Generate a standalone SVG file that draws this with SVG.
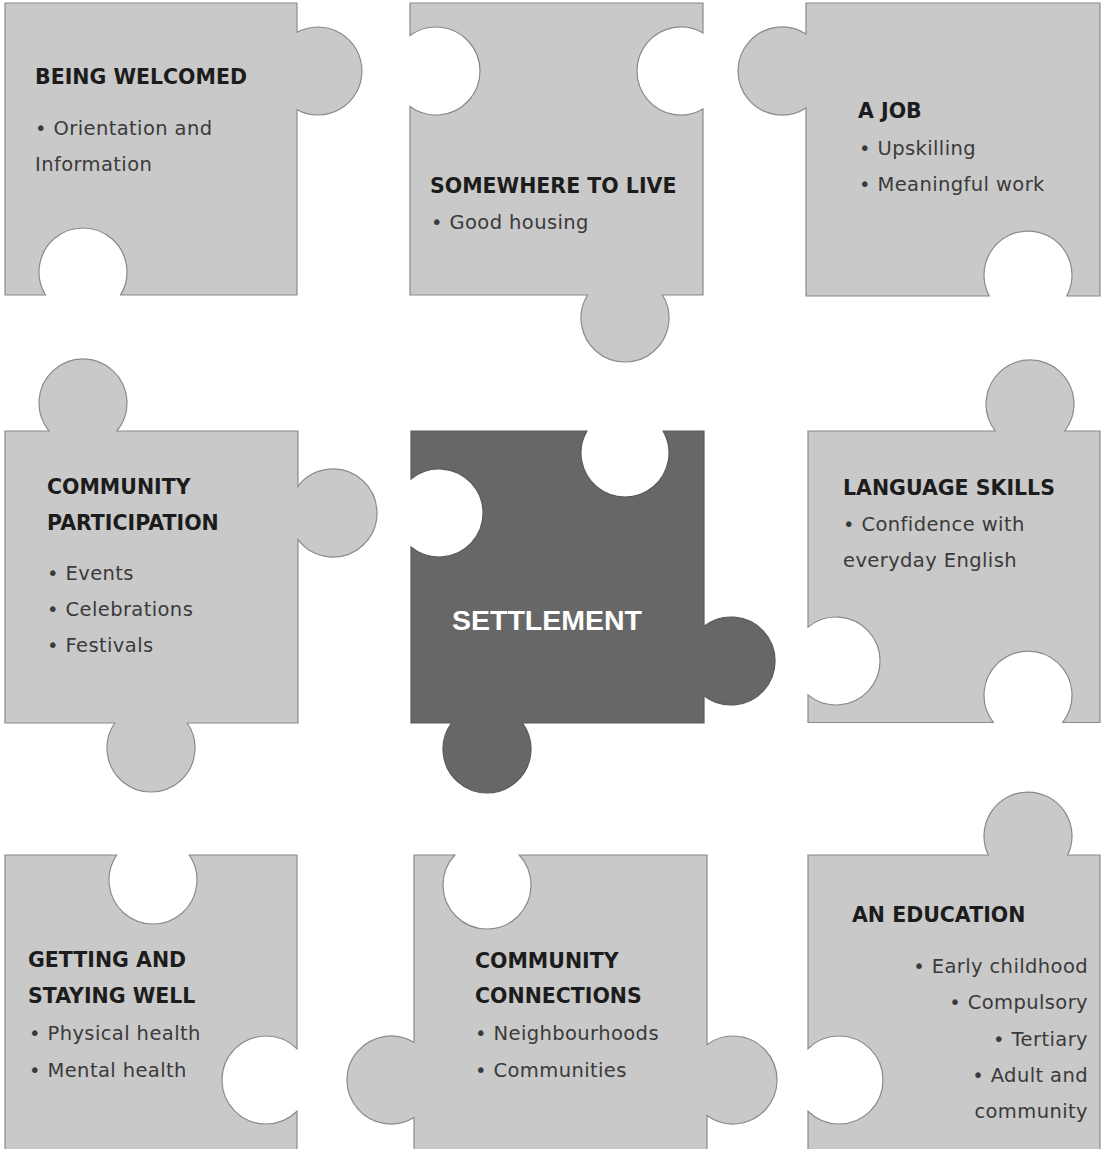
<svg xmlns="http://www.w3.org/2000/svg" width="1102" height="1149" viewBox="0 0 1102 1149">
  <style>
    .piece { fill: #c9c9c9; stroke: #8a8a8a; stroke-width: 1.2; }
    .core { fill: #676767; stroke: #5a5a5a; stroke-width: 1.2; }
    .head { font-family: "DejaVu Sans", "Liberation Sans", sans-serif; font-weight: bold; font-size: 20.5px; fill: #1c1c1c; }
    .body { font-family: "DejaVu Sans", "Liberation Sans", sans-serif; font-size: 19.5px; fill: #3a3a3a; letter-spacing: 0.4px; }
    .right { text-anchor: end; }
    .core-label { font-family: "Liberation Sans", Arial, sans-serif; font-weight: bold; font-size: 28.5px; fill: #ffffff; }
  </style>
  <rect width="1102" height="1149" fill="#ffffff"/>

  <!-- no connectors: the pieces interlock by their tabs and sockets -->
  <g id="connectors"/>

  <g id="being-welcomed">
    <path class="piece" d="M5,3 H297 V32.3 A44,44 0 1 1 297,109.7 V295 H120.5 A44,44 0 1 0 45.5,295 H5 Z"/>
    <text class="head" x="35" y="84">BEING WELCOMED</text>
    <text class="body" x="35" y="135">• Orientation and</text>
    <text class="body" x="35" y="171">Information</text>
  </g>

  <g id="somewhere-to-live">
    <path class="piece" d="M410,3 H703 V32.9 A44,44 0 1 0 703,109.1 V295 H662.5 A44,44 0 1 1 587.5,295 H410 V106.5 A44,44 0 1 0 410,35.5 Z"/>
    <text class="head" x="430" y="193">SOMEWHERE TO LIVE</text>
    <text class="body" x="431" y="229">• Good housing</text>
  </g>

  <g id="a-job">
    <path class="piece" d="M806,3 H1100 V296 H1066.7 A44,44 0 1 0 989.3,296 H806 V107.9 A44,44 0 1 1 806,34.1 Z"/>
    <text class="head" x="858" y="118">A JOB</text>
    <text class="body" x="859" y="155">• Upskilling</text>
    <text class="body" x="859" y="191">• Meaningful work</text>
  </g>

  <g id="community-participation">
    <path class="piece" d="M5,431 H49.1 A44,44 0 1 1 116.9,431 H298 V486.3 A44,44 0 1 1 298,539.7 V723 H187.2 A44,44 0 1 1 114.8,723 H5 Z"/>
    <text class="head" x="47" y="494">COMMUNITY</text>
    <text class="head" x="47" y="530">PARTICIPATION</text>
    <text class="body" x="47" y="580">• Events</text>
    <text class="body" x="47" y="616">• Celebrations</text>
    <text class="body" x="47" y="652">• Festivals</text>
  </g>

  <g id="settlement">
    <path class="core" d="M411,431 H586.9 A44,44 0 1 0 663.1,431 H704 V626.3 A44,44 0 1 1 704,695.7 V723 H522.5 A44,44 0 1 1 451.5,723 H411 V546.9 A44,44 0 1 0 411,479.1 Z"/>
    <text class="core-label" x="452" y="630">SETTLEMENT</text>
  </g>

  <g id="language-skills">
    <path class="piece" d="M808,431 H995.3 A44,44 0 1 1 1064.7,431 H1100 V722.5 H1062.5 A44,44 0 1 0 993.5,722.5 H808 V694.9 A44,44 0 1 0 808,627.1 Z"/>
    <text class="head" x="843" y="495">LANGUAGE SKILLS</text>
    <text class="body" x="843" y="531">• Confidence with</text>
    <text class="body" x="843" y="567">everyday English</text>
  </g>

  <g id="getting-and-staying-well">
    <path class="piece" d="M5,855 H116.8 A44,44 0 1 0 189.2,855 H297 V1048.8 A44,44 0 1 0 297,1111.2 V1150 H5 Z"/>
    <text class="head" x="28" y="967">GETTING AND</text>
    <text class="head" x="28" y="1003">STAYING WELL</text>
    <text class="body" x="29" y="1040">• Physical health</text>
    <text class="body" x="29" y="1077">• Mental health</text>
  </g>

  <g id="community-connections">
    <path class="piece" d="M414,855 H454.8 A44,44 0 1 0 519.2,855 H707 V1044.5 A44,44 0 1 1 707,1115.5 V1150 H414 V1117.5 A44,44 0 1 1 414,1042.5 Z"/>
    <text class="head" x="475" y="968">COMMUNITY</text>
    <text class="head" x="475" y="1003">CONNECTIONS</text>
    <text class="body" x="475" y="1040">• Neighbourhoods</text>
    <text class="body" x="475" y="1077">• Communities</text>
  </g>

  <g id="an-education">
    <path class="piece" d="M808,855 H988.3 A44,44 0 1 1 1067.7,855 H1100 V1150 H808 V1111.2 A44,44 0 1 0 808,1048.8 Z"/>
    <text class="head" x="852" y="922">AN EDUCATION</text>
    <text class="body right" x="1088" y="973">• Early childhood</text>
    <text class="body right" x="1088" y="1009">• Compulsory</text>
    <text class="body right" x="1088" y="1046">• Tertiary</text>
    <text class="body right" x="1088" y="1082">• Adult and</text>
    <text class="body right" x="1088" y="1118">community</text>
  </g>
</svg>
